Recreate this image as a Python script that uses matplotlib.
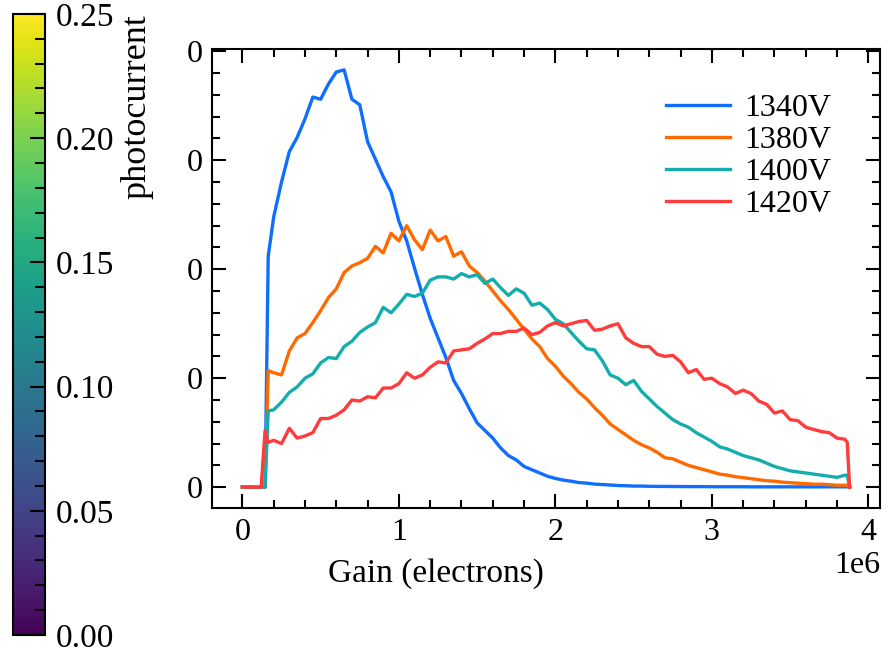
import matplotlib
matplotlib.use("Agg")
import matplotlib.pyplot as plt
from matplotlib.cm import ScalarMappable
from matplotlib.colors import Normalize
from matplotlib.ticker import MultipleLocator, FormatStrFormatter

plt.rcParams['font.family'] = ['Liberation Serif', 'DejaVu Serif']
plt.rcParams['font.size'] = 23

# gain axis (electrons)
gain = [0.0, 5e4, 1.0e5, 1.2e5, 1.45e5, 1.65e5] + [2e5 + 5e4 * i for i in range(74)] + [3.865e6, 3.88e6]

labels = ['1340V', '1380V', '1400V', '1420V']
colors = ['#0f6eff', '#ff6a00', '#14adad', '#ff3b3b']

v1340 = [0, 0, 0, 0, 0, 0.0212,
         0.0248, 0.0280, 0.0308, 0.0321, 0.0338, 0.0358, 0.0356, 0.0370, 0.0381, 0.0383,
         0.0356, 0.0351, 0.0317, 0.0301, 0.0285, 0.0271, 0.0244, 0.0226, 0.0201, 0.0177,
         0.0155, 0.0137, 0.0119, 0.0098, 0.0086, 0.0072, 0.0059, 0.0052, 0.0045, 0.0036,
         0.0029, 0.0025, 0.0019, 0.0016, 0.0013, 0.0010, 0.0008, 0.00065, 0.00055, 0.00042,
         0.00037, 0.00028, 0.00024, 0.0002, 0.00015, 0.00013, 0.0001, 0.0001, 0.00008, 0.00007,
         0.00007, 0.00006, 0.00006, 0.00005, 0.00005, 0.00005, 0.00004, 0.00004, 0.00004, 0.00004,
         0.00004, 0.00003, 0.00003, 0.00003, 0.00003, 0.00003, 0.00003, 0.00003, 0.00003, 0.00003,
         0.00003, 0.00003, 0.00003, 0.00003,
         0.00003, 0]

v1380 = [0, 0, 0, 0, 0, 0.0107,
         0.0105, 0.0103, 0.0125, 0.0137, 0.0141, 0.0151, 0.0162, 0.0174, 0.0182, 0.0197,
         0.0203, 0.0206, 0.0210, 0.0221, 0.0215, 0.0233, 0.0226, 0.0240, 0.0227, 0.0218,
         0.0236, 0.0226, 0.0230, 0.0212, 0.0216, 0.0203, 0.0197, 0.0189, 0.0180, 0.0171,
         0.0163, 0.0154, 0.0145, 0.0136, 0.0129, 0.0118, 0.0111, 0.0102, 0.0095, 0.0087,
         0.0081, 0.0073, 0.0066, 0.0058, 0.0053, 0.0048, 0.0043, 0.0039, 0.0036, 0.0032,
         0.0027, 0.0026, 0.0023, 0.0020, 0.0018, 0.0016, 0.0014, 0.0012, 0.0011, 0.00096,
         0.00087, 0.00078, 0.00068, 0.00059, 0.00055, 0.00046, 0.00041, 0.00037, 0.00032, 0.00027,
         0.00027, 0.00023, 0.00018, 0.00018,
         0.00018, 0]

v1400 = [0, 0, 0, 0, 0, 0.0070,
         0.0071, 0.0078, 0.0087, 0.0092, 0.0100, 0.0104, 0.0114, 0.0119, 0.0118, 0.0129,
         0.0134, 0.0142, 0.0147, 0.0151, 0.0165, 0.0160, 0.0168, 0.0177, 0.0175, 0.0178,
         0.0190, 0.0193, 0.0193, 0.0191, 0.0196, 0.0193, 0.0195, 0.0187, 0.0191, 0.0183,
         0.0176, 0.0182, 0.0178, 0.0167, 0.0169, 0.0163, 0.0154, 0.0150, 0.0142, 0.0134,
         0.0127, 0.0126, 0.0116, 0.0103, 0.0100, 0.0094, 0.0098, 0.0088, 0.0081, 0.0074,
         0.0068, 0.0062, 0.0058, 0.0055, 0.0050, 0.0046, 0.0042, 0.0037, 0.0035, 0.0032,
         0.0029, 0.0027, 0.0025, 0.0022, 0.0019, 0.0017, 0.0015, 0.0014, 0.0013, 0.0012,
         0.0011, 0.0010, 0.0009, 0.0011,
         0.0011, 0]

v1420 = [0, 0, 0, 0, 0.0052, 0.0041,
         0.0043, 0.0040, 0.0054, 0.0045, 0.0047, 0.0050, 0.0063, 0.0063, 0.0066, 0.0071,
         0.0080, 0.0079, 0.0083, 0.0082, 0.0091, 0.0091, 0.0095, 0.0105, 0.0100, 0.0103,
         0.0110, 0.0115, 0.0114, 0.0125, 0.0126, 0.0127, 0.0132, 0.0136, 0.0141, 0.0141,
         0.0143, 0.0143, 0.0146, 0.0140, 0.0142, 0.0148, 0.0151, 0.0148, 0.0150, 0.0152,
         0.0153, 0.0144, 0.0145, 0.0148, 0.0150, 0.0137, 0.0132, 0.0129, 0.0129, 0.0122,
         0.0120, 0.0121, 0.0115, 0.0105, 0.0108, 0.0099, 0.0100, 0.0095, 0.0092, 0.0086,
         0.0089, 0.0086, 0.0079, 0.0076, 0.0068, 0.0070, 0.0062, 0.0061, 0.0055, 0.0053,
         0.0051, 0.0050, 0.0045, 0.0044,
         0.0041, 0]

series = [v1340, v1380, v1400, v1420]

cbar_ticks = [0.00, 0.05, 0.10, 0.15, 0.20, 0.25]

fig = plt.figure(figsize=(8.95, 6.53), dpi=100)

# colorbar on the left
cax = fig.add_axes([0.0145, 0.0276, 0.0358, 0.951])
sm = ScalarMappable(norm=Normalize(cbar_ticks[0], cbar_ticks[-1]), cmap='viridis')
cbar = fig.colorbar(sm, cax=cax)
cbar.set_ticks(cbar_ticks)
cbar.ax.yaxis.set_major_formatter(FormatStrFormatter('%.2f'))
cbar.ax.yaxis.set_minor_locator(MultipleLocator(0.01))
cbar.ax.tick_params(which='both', direction='in', width=1.5)
cbar.ax.tick_params(which='major', length=11, pad=8, labelsize=24)
cbar.ax.tick_params(which='minor', length=7)
cbar.outline.set_linewidth(1.5)
cbar.set_label('photocurrent', loc='top', fontsize=26)

# main axes
ax = fig.add_axes([0.2369, 0.222, 0.7463, 0.703])
for vals, lab, col in zip(series, labels, colors):
    ax.plot(gain, vals, color=col, linewidth=2.4, label=lab)

ax.set_xlabel('Gain (electrons)', fontsize=24, labelpad=8, x=0.335)
ax.yaxis.set_major_locator(MultipleLocator(0.01))
ax.yaxis.set_minor_locator(MultipleLocator(0.002))
ax.yaxis.set_major_formatter(FormatStrFormatter('%d'))
ax.xaxis.set_major_locator(MultipleLocator(1e6))
ax.xaxis.set_minor_locator(MultipleLocator(2e5))
ax.tick_params(which='both', direction='in', top=True, right=True, width=1.5)
ax.tick_params(which='major', length=10, pad=7)
ax.tick_params(which='minor', length=5.5)
for sp in ax.spines.values():
    sp.set_linewidth(1.5)

ax.legend(loc='upper right', frameon=False, labelspacing=0.08, handletextpad=0.45,
          bbox_to_anchor=(0.97, 0.965))

fig.savefig('out.png', dpi=100)
